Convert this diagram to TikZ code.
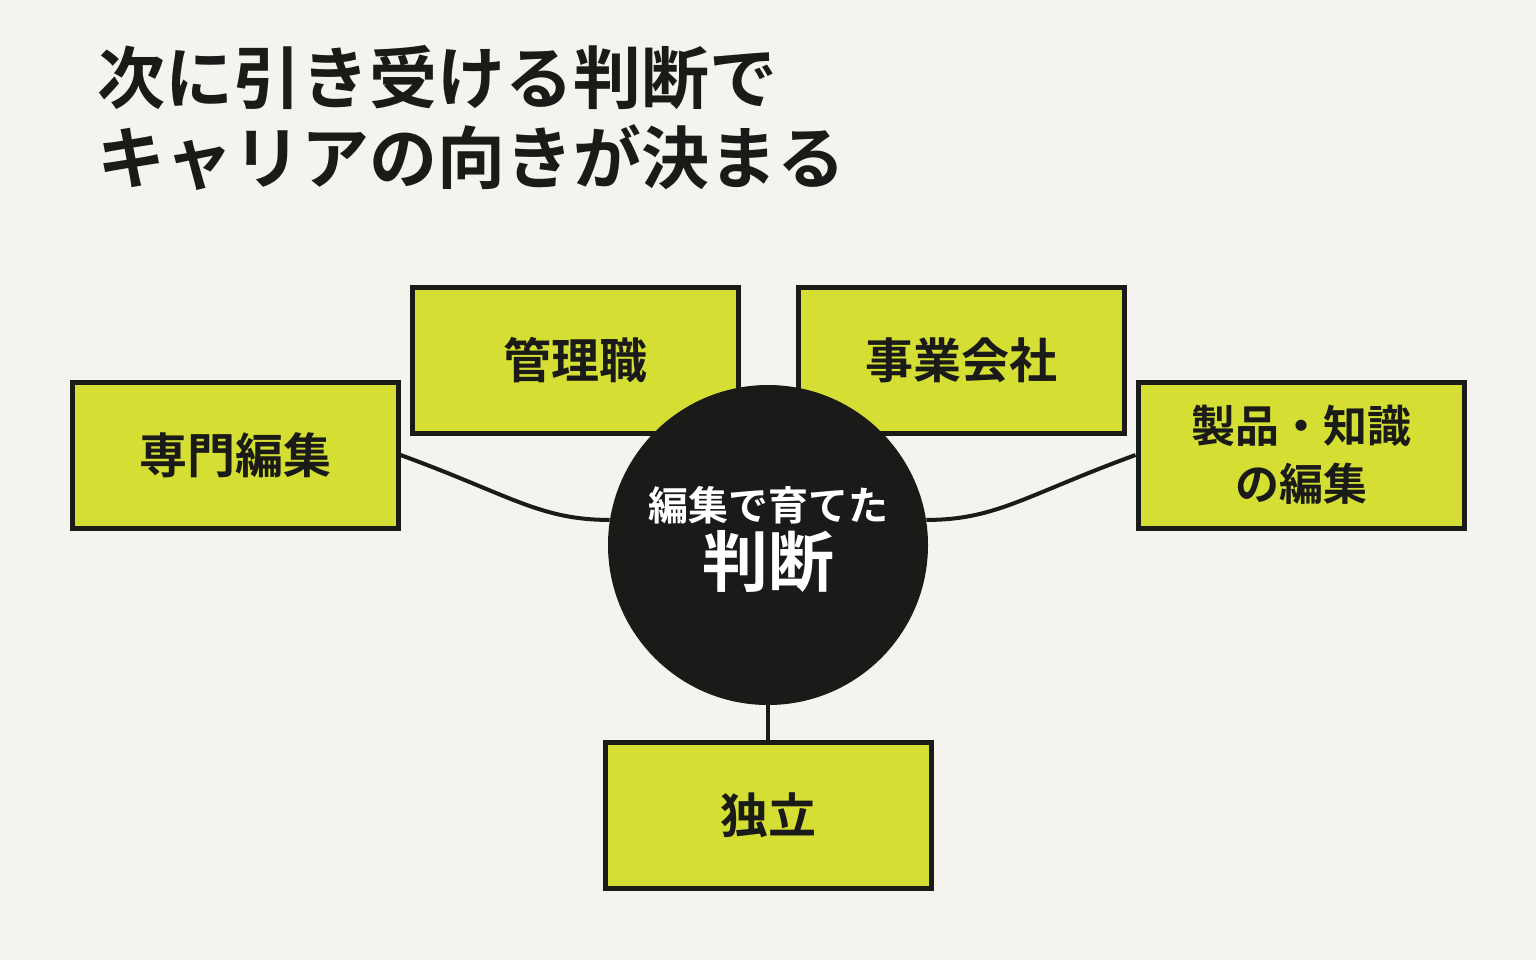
\documentclass[tikz,border=0pt]{standalone}
\usepackage{fontspec}
\setmainfont{Noto Sans CJK JP}[BoldFont={* Bold}]
\usetikzlibrary{positioning}
\definecolor{bgcol}{HTML}{F4F3EE}
\definecolor{boxcol}{HTML}{D4DE33}
\definecolor{inkcol}{HTML}{1A1A18}
\tikzset{
  path/.style={draw=inkcol,line width=2pt},
  choice/.style={draw=inkcol,fill=boxcol,line width=2.5pt,minimum width=163pt,minimum height=73pt,
    align=center,font=\bfseries\fontsize{24}{29}\selectfont,text=inkcol},
}
\begin{document}
\begin{tikzpicture}[x=0.5pt,y=-0.5pt]
    \fill[bgcol] (0,0) rectangle (1536,960);
    \useasboundingbox (0,0) rectangle (1536,960);

    \node[anchor=north west,align=left,text=inkcol,font=\bfseries\fontsize{34}{40}\selectfont] (title) at (90,38) {次に引き受ける判断で\\キャリアの向きが決まる};

    % upper choices sit behind the hub
    \node[choice] (mgr) at (575,360) {管理職};
    \node[choice] (corp) at (961,360) {事業会社};

    \node[circle,fill=inkcol,minimum size=160pt,inner sep=0pt] (hub) at (768,545) {};
    \node[text=white,align=center,font=\bfseries\fontsize{20}{24}\selectfont] (hubtop) at (768,505) {編集で育てた};
    \node[text=white,font=\bfseries\fontsize{33}{38}\selectfont,below=-4pt of hubtop] (hubmain) {判断};

    \node[choice] (expert) at (235,455) {専門編集};
    \node[choice,font=\bfseries\fontsize{22}{29}\selectfont] (product) at (1301,455) {製品・知識\\の編集};
    \node[choice] (indep) at (768,815) {独立};

    \draw[path] (expert.east) .. controls (510,495) and (540,520) .. (hub.171);
    \draw[path] (product.west) .. controls (1026,495) and (996,520) .. (hub.9);
    \draw[path] (hub.south) -- (indep.north);
\end{tikzpicture}
\end{document}
